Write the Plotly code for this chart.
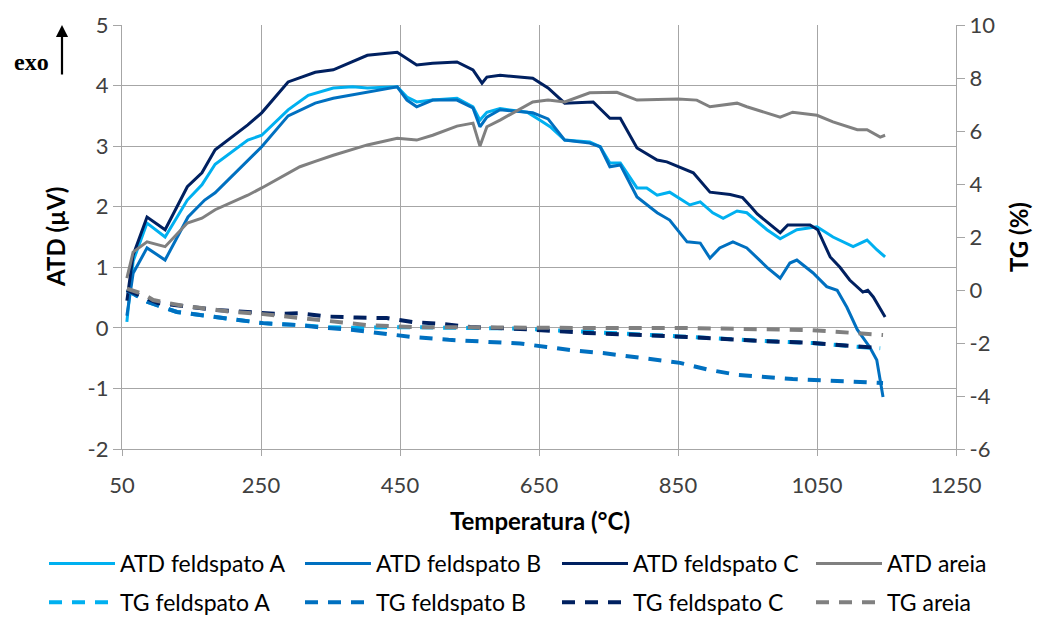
import plotly.graph_objects as go

# ---------------- data ----------------
temp_atd_a = [57, 66, 86, 112, 144, 165, 184, 231, 251, 289, 318, 354, 382, 403, 446, 460, 474, 497, 532, 555,
              565, 575, 594, 633, 651, 666, 687, 723, 738, 752, 767, 791, 805, 820, 838, 867, 882, 900, 915, 935,
              949, 978, 997, 1021, 1050, 1073, 1102, 1122, 1136, 1148]
atd_a = [0.10, 1.10, 1.73, 1.50, 2.11, 2.36, 2.70, 3.10, 3.18, 3.60, 3.84, 3.96, 3.98, 3.96, 3.98, 3.81, 3.73, 3.76, 3.79, 3.65,
         3.43, 3.56, 3.62, 3.56, 3.43, 3.32, 3.10, 3.07, 2.99, 2.72, 2.72, 2.31, 2.31, 2.19, 2.24, 2.03, 2.08, 1.90, 1.81, 1.93,
         1.90, 1.62, 1.47, 1.62, 1.67, 1.50, 1.34, 1.45, 1.29, 1.17]

temp_atd_b = [57, 66, 86, 112, 145, 169, 184, 231, 251, 289, 328, 354, 403, 446, 460, 474, 497, 532, 555, 565,
              575, 594, 641, 663, 687, 723, 738, 752, 767, 791, 820, 838, 863, 882, 896, 910, 929, 949, 978, 997,
              1011, 1021, 1044, 1064, 1079, 1093, 1108, 1126, 1136, 1141, 1145]
atd_b = [0.20, 0.90, 1.32, 1.12, 1.83, 2.11, 2.23, 2.77, 2.99, 3.50, 3.71, 3.79, 3.89, 3.98, 3.76, 3.65, 3.76, 3.76, 3.63, 3.32,
         3.48, 3.60, 3.55, 3.45, 3.10, 3.05, 2.99, 2.66, 2.69, 2.16, 1.90, 1.78, 1.42, 1.40, 1.15, 1.32, 1.42, 1.32, 1.00, 0.82,
         1.07, 1.12, 0.91, 0.68, 0.62, 0.34, -0.03, -0.32, -0.53, -0.86, -1.14]

temp_atd_c = [57, 66, 86, 112, 144, 165, 184, 231, 251, 289, 328, 354, 403, 446, 474, 497, 532, 555, 568, 575,
              594, 641, 663, 687, 728, 752, 767, 791, 820, 834, 872, 896, 925, 943, 955, 964, 997, 1008, 1040, 1051,
              1069, 1083, 1097, 1116, 1123, 1131, 1148]
atd_c = [0.45, 1.20, 1.83, 1.62, 2.33, 2.56, 2.94, 3.35, 3.55, 4.06, 4.22, 4.26, 4.50, 4.55, 4.34, 4.37, 4.39, 4.26, 4.04, 4.14,
         4.17, 4.12, 3.96, 3.71, 3.73, 3.46, 3.46, 2.97, 2.77, 2.74, 2.56, 2.24, 2.20, 2.15, 2.00, 1.88, 1.57, 1.70, 1.70, 1.62,
         1.17, 1.00, 0.79, 0.59, 0.62, 0.51, 0.18]

temp_atd_areia = [57, 66, 86, 112, 144, 165, 184, 231, 251, 289, 306, 328, 354, 403, 446, 474, 497, 532, 555, 565,
                  575, 594, 641, 663, 687, 723, 762, 791, 850, 877, 896, 935, 949, 997, 1015, 1050, 1073, 1108, 1122, 1141,
                  1148]
atd_areia = [0.82, 1.25, 1.42, 1.34, 1.73, 1.81, 1.95, 2.19, 2.31, 2.55, 2.66, 2.75, 2.85, 3.02, 3.13, 3.10, 3.18, 3.33, 3.38, 3.00,
             3.32, 3.43, 3.73, 3.76, 3.73, 3.88, 3.89, 3.76, 3.78, 3.76, 3.65, 3.71, 3.65, 3.48, 3.56, 3.51, 3.40, 3.27, 3.27, 3.15,
             3.18]

temp_tg_a = [57, 87, 129, 172, 210, 253, 302, 345, 388, 454, 536, 618, 719, 791, 853, 968, 1044, 1122, 1141]
tg_a = [0.0, -0.45, -0.83, -0.98, -1.13, -1.25, -1.32, -1.40, -1.43, -1.40, -1.43, -1.45, -1.58, -1.66, -1.75, -1.92, -2.00, -2.17, -2.20]

temp_tg_b = [57, 87, 129, 172, 210, 253, 302, 330, 383, 430, 470, 520, 580, 623, 661, 699, 742, 814, 853, 892,
             935, 1015, 1054, 1145]
tg_b = [0.0, -0.45, -0.83, -0.98, -1.13, -1.25, -1.32, -1.40, -1.51, -1.65, -1.78, -1.88, -1.96, -2.02, -2.15, -2.28, -2.38, -2.64, -2.75, -3.00,
        -3.20, -3.36, -3.40, -3.51]

temp_tg_c = [57, 102, 184, 270, 306, 345, 388, 431, 469, 512, 551, 594, 623, 719, 863, 968, 1044, 1141]
tg_c = [0.0, -0.49, -0.75, -0.90, -0.88, -1.00, -1.04, -1.06, -1.21, -1.28, -1.40, -1.43, -1.47, -1.62, -1.77, -1.92, -2.00, -2.19]

temp_tg_areia = [57, 80, 95, 138, 177, 210, 253, 292, 335, 402, 469, 584, 700, 853, 1040, 1102, 1145]
tg_areia = [0.05, -0.15, -0.38, -0.60, -0.72, -0.83, -0.91, -1.02, -1.13, -1.32, -1.40, -1.43, -1.43, -1.43, -1.51, -1.62, -1.70]

x_ticks = [50, 250, 450, 650, 850, 1050, 1250]
y_left_ticks = [-2, -1, 0, 1, 2, 3, 4, 5]
y_left_labels = ["-2", "-1", "0", "1", "2", "3", "4", "5"]
y_right_ticks = [-6, -4, -2, 0, 2, 4, 6, 8, 10]
y_right_labels = ["-6", "-4", "-2", "0", "2", "4", "6", "8", "10"]

names_atd = ["ATD feldspato A", "ATD feldspato B", "ATD feldspato C", "ATD areia"]
names_tg = ["TG feldspato A", "TG feldspato B", "TG feldspato C", "TG areia"]

# ---------------- styling ----------------
colors = ["#00B0F0", "#0070C0", "#002060", "#808080"]
legends = ["legend", "legend2", "legend3", "legend4"]
FONT = "Lato"
TXT = "#404040"
GRID = "#a6a6a6"
FS = 22

fig = go.Figure()
atd_sets = [(temp_atd_a, atd_a), (temp_atd_b, atd_b), (temp_atd_c, atd_c), (temp_atd_areia, atd_areia)]
tg_sets = [(temp_tg_a, tg_a), (temp_tg_b, tg_b), (temp_tg_c, tg_c), (temp_tg_areia, tg_areia)]

for i, (xs, ys) in enumerate(atd_sets):
    fig.add_trace(go.Scatter(x=xs, y=ys, mode="lines", name=names_atd[i],
                             line=dict(color=colors[i], width=3),
                             legend=legends[i], legendgroup="atd%d" % i, hoverinfo="skip"))
for i, (xs, ys) in enumerate(tg_sets):
    fig.add_trace(go.Scatter(x=xs, y=ys, mode="lines", name=names_tg[i], yaxis="y2",
                             line=dict(color=colors[i], width=4, dash="13px,10px"),
                             legend=legends[i], legendgroup="tg%d" % i, hoverinfo="skip"))

W, H = 1037, 617
L, R, T, B = 122, 81, 25, 168
pw, ph = W - L - R, H - T - B

# legends: one column per sample set (2 rows)
text_x = [120, 376, 633, 887]
legend_cfg = {}
for i, lg in enumerate(legends):
    legend_cfg[lg] = dict(
        xref="container", yref="container",
        x=(text_x[i] - 76) / W, y=1 - 542 / H,
        xanchor="left", yanchor="top",
        orientation="v", traceorder="grouped", tracegroupgap=6,
        itemwidth=66,
        font=dict(family=FONT, size=23, color="#000000"),
        bgcolor="rgba(0,0,0,0)",
    )


def px_x(px):
    return (px - L) / pw


def px_y(py):
    return (H - B - py) / ph


tick_font = dict(family=FONT, size=FS, color=TXT)
fig.update_layout(
    width=W, height=H,
    margin=dict(l=L, r=R, t=T, b=B, pad=0, autoexpand=False),
    paper_bgcolor="white", plot_bgcolor="white",
    font=dict(family=FONT, size=FS, color=TXT),
    xaxis=dict(range=[50, 1250], tickvals=x_ticks, showgrid=True, gridcolor=GRID, gridwidth=1.3,
               showline=True, linecolor=GRID, linewidth=1.3, zeroline=False,
               ticks="outside", ticklen=6, tickcolor=GRID, ticklabelstandoff=10, tickfont=tick_font),
    yaxis=dict(range=[-2, 5], tickvals=y_left_ticks, ticktext=y_left_labels, showgrid=True, gridcolor=GRID,
               gridwidth=1.3, showline=True, linecolor=GRID, linewidth=1.3, zeroline=False,
               ticks="outside", ticklen=8, tickcolor=GRID, tickfont=tick_font),
    yaxis2=dict(range=[-6, 10], tickvals=y_right_ticks, ticktext=y_right_labels, overlaying="y", side="right",
                showgrid=False, showline=True, linecolor=GRID, linewidth=1.3, zeroline=False,
                ticks="outside", ticklen=8, tickcolor=GRID, tickfont=tick_font),
    showlegend=True,
    **legend_cfg,
)

title_font = dict(family=FONT, size=24, color="#000000")
annotations = [
    dict(text="<b>Temperatura (°C)</b>", x=px_x(540), y=px_y(520), xref="paper", yref="paper",
         showarrow=False, font=title_font, xanchor="center", yanchor="middle"),
    dict(text="<b>ATD (µV)</b>", x=px_x(55), y=px_y(237), xref="paper", yref="paper", textangle=-90,
         showarrow=False, font=title_font, xanchor="center", yanchor="middle"),
    dict(text="<b>TG (%)</b>", x=px_x(1018), y=px_y(237), xref="paper", yref="paper", textangle=-90,
         showarrow=False, font=title_font, xanchor="center", yanchor="middle"),
    dict(text="<b>exo</b>", x=px_x(31), y=px_y(62), xref="paper", yref="paper",
         showarrow=False, font=dict(family="Liberation Serif", size=24, color="#000000"),
         xanchor="center", yanchor="middle"),
    dict(text="", x=px_x(62), y=px_y(25), xref="paper", yref="paper", showarrow=True,
         ax=0, ay=51, arrowhead=2, arrowsize=1.1, arrowwidth=2.2, arrowcolor="#000000", standoff=0),
]
fig.update_layout(annotations=annotations)

# remove the browser's default 8px page margin so the figure sits at (0, 0); hide the mode bar
fig.write_html("out.html", config={"displayModeBar": False},
               post_script="document.body.style.margin='0';")
